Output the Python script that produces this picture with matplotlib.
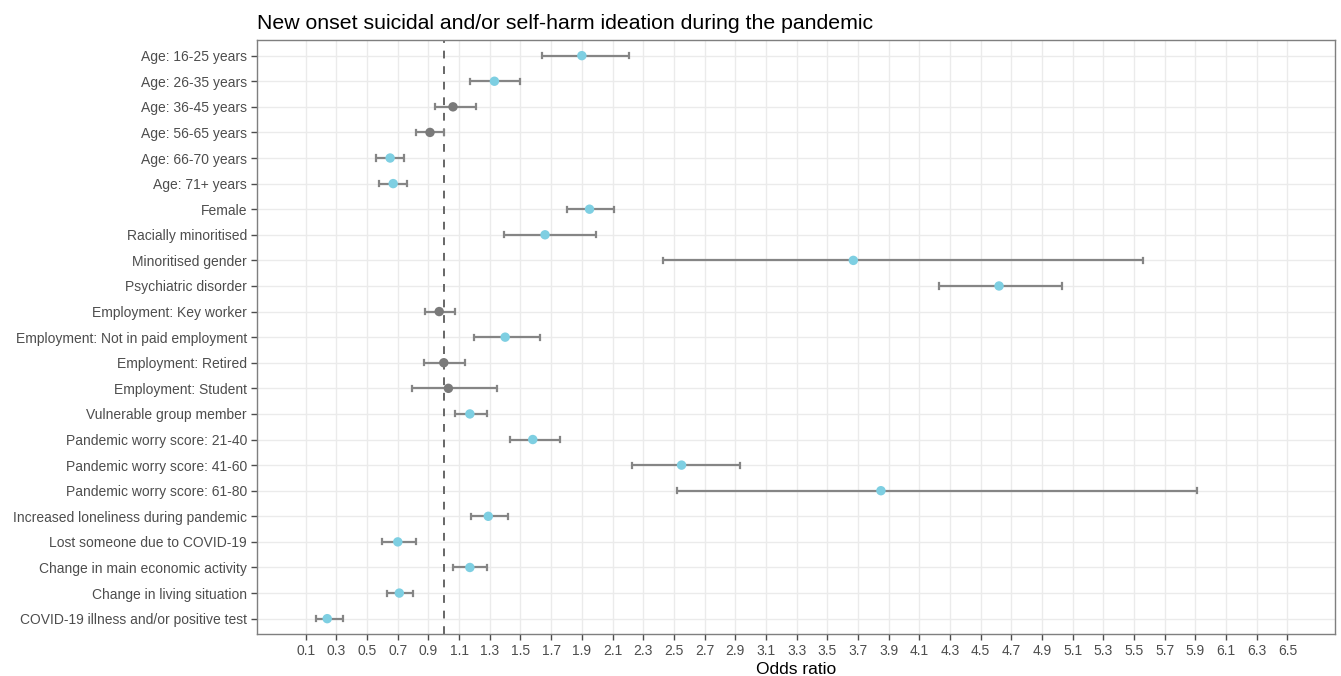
import matplotlib
matplotlib.use('Agg')

import numpy as np
import matplotlib.pyplot as plt

plt.rcParams['font.family'] = ['Liberation Sans', 'DejaVu Sans']

# Data
labels = [
    "Age: 16-25 years", "Age: 26-35 years", "Age: 36-45 years", "Age: 56-65 years",
    "Age: 66-70 years", "Age: 71+ years", "Female", "Racially minoritised",
    "Minoritised gender", "Psychiatric disorder", "Employment: Key worker",
    "Employment: Not in paid employment", "Employment: Retired", "Employment: Student",
    "Vulnerable group member", "Pandemic worry score: 21-40",
    "Pandemic worry score: 41-60", "Pandemic worry score: 61-80",
    "Increased loneliness during pandemic", "Lost someone due to COVID-19",
    "Change in main economic activity", "Change in living situation",
    "COVID-19 illness and/or positive test",
]
odds = [1.90, 1.33, 1.06, 0.91, 0.65, 0.67, 1.95, 1.66, 3.67, 4.62, 0.97,
        1.40, 1.00, 1.03, 1.17, 1.58, 2.55, 3.85, 1.29, 0.70, 1.17, 0.71, 0.24]
ci_low = [1.64, 1.17, 0.94, 0.82, 0.56, 0.58, 1.80, 1.39, 2.43, 4.23, 0.88,
          1.20, 0.87, 0.79, 1.07, 1.43, 2.23, 2.52, 1.18, 0.60, 1.06, 0.63, 0.17]
ci_high = [2.21, 1.50, 1.21, 1.00, 0.74, 0.76, 2.11, 1.99, 5.56, 5.03, 1.07,
           1.63, 1.14, 1.35, 1.28, 1.76, 2.93, 5.91, 1.42, 0.82, 1.28, 0.80, 0.34]
significant = [True, True, False, False, True, True, True, True, True, True, False,
               True, False, False, True, True, True, True, True, True, True, True, True]

x_ticks = np.round(np.arange(0.1, 6.51, 0.2), 1)

COLOR_SIG = '#7ECFE2'
COLOR_NS = '#7A7A7A'
COLOR_BAR = '#858585'
TEXT_COLOR = '#4D4D4D'

fig = plt.figure(figsize=(13.41, 6.76), dpi=100)
ax = fig.add_axes([0.1914, 0.0621, 0.8041, 0.8783])

n = len(labels)
ypos = np.arange(n, 0, -1)

# error bars with small caps
for y, lo, hi in zip(ypos, ci_low, ci_high):
    ax.plot([lo, hi], [y, y], color=COLOR_BAR, lw=1.6, zorder=3, solid_capstyle='butt')
    ax.plot([lo, lo], [y - 0.1, y + 0.1], color=COLOR_BAR, lw=1.6, zorder=3)
    ax.plot([hi, hi], [y - 0.1, y + 0.1], color=COLOR_BAR, lw=1.6, zorder=3)

colors = [COLOR_SIG if s else COLOR_NS for s in significant]
ax.scatter(odds, ypos, s=46, c=colors, zorder=4, linewidths=0)

ax.axvline(1.0, color='#666666', lw=1.4, ls=(0, (4, 4)), zorder=2)

ax.set_xlim(-0.22, 6.81)
ax.set_ylim(0.4, n + 0.6)
ax.set_xticks(x_ticks)
ax.set_xticklabels([f"{t:.1f}" for t in x_ticks])
ax.set_yticks(ypos)
ax.set_yticklabels(labels)

ax.grid(True, color='#EBEBEB', lw=1.0, zorder=0)
ax.set_axisbelow(True)
for sp in ax.spines.values():
    sp.set_color('#7F7F7F')
    sp.set_linewidth(1.0)

ax.tick_params(axis='both', colors='#4D4D4D', length=4, width=1.0,
               labelsize=10, labelcolor=TEXT_COLOR, pad=3)
ax.set_xlabel("Odds ratio", fontsize=12.5, color='black', labelpad=3)
ax.set_title("New onset suicidal and/or self-harm ideation during the pandemic",
             loc='left', fontsize=15.3, color='black', pad=8)

fig.savefig('out.png', dpi=100, facecolor='white')
